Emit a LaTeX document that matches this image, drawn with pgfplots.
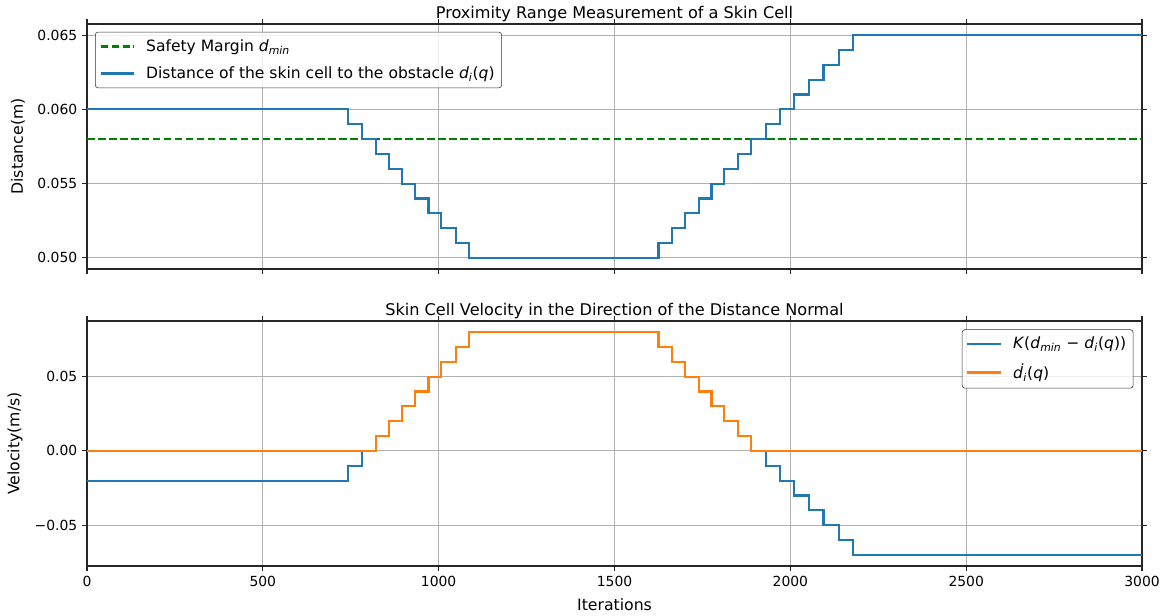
\documentclass[border=0pt]{standalone}
\usepackage{fontspec}
\setmainfont{DejaVu Sans}
\usepackage{pgfplots}
\pgfplotsset{compat=1.18}
\definecolor{tabblue}{HTML}{1F77B4}
\definecolor{taborange}{HTML}{FF7F0E}
\definecolor{mplgreen}{HTML}{008000}
\definecolor{gridgray}{HTML}{B0B0B0}

\pgfplotsset{
 common/.style={
  scale only axis, width=759.6pt, height=176.4pt,
  xmin=0, xmax=3000,
  xtick={0,500,1000,1500,2000,2500,3000},
  scaled ticks=false,
  tick pos=both, tick align=outside,
  major tick length=3.5pt,
  tick style={black!85, line width=0.8pt},
  axis line style={line width=0.9pt, black!85},
  grid=major, major grid style={line width=0.8pt, gridgray},
  xticklabel style={font=\fontsize{10}{12}\selectfont},
  yticklabel style={font=\fontsize{10}{12}\selectfont},
  /pgf/number format/assume math mode=true,
  legend cell align=left,
  legend image code/.code={\draw[#1] (0pt,0pt) -- (24pt,0pt);},
  legend style={font=\fontsize{11.2}{13}\selectfont, draw=black!80, rounded corners=2pt, fill=white, fill opacity=0.8, text opacity=1, row sep=5.5pt, inner xsep=3pt, inner ysep=3.3pt,
    /tikz/every odd column/.append style={column sep=6pt}},
  title style={font=\fontsize{11.6}{14}\selectfont, at={(0.5,1)}, anchor=south, inner sep=0pt, yshift=-4.4pt},
  label style={font=\fontsize{11.3}{13}\selectfont},
  every axis plot/.append style={line width=1.6pt, line join=miter},
 }
}

\begin{document}
\begin{tikzpicture}
\useasboundingbox (-62.64pt,-425.52pt) rectangle (776.88pt,17.28pt);
\begin{axis}[common,
  at={(0pt,0pt)}, anchor=north west,
  ymin=0.04925, ymax=0.06575,
  ytick={0.05,0.055,0.06,0.065},
  yticklabels={0.050,0.055,0.060,0.065},
  xticklabels={},
  title={Proximity Range Measurement of a Skin Cell},
  ylabel={Distance(m)},
  ylabel style={at={(axis description cs:-0.0654,0.5)}, rotate=0, anchor=center},
  legend style={at={(0.0076,0.968)}, anchor=north west},
]
\addplot[mplgreen, dash pattern=on 5.5pt off 2.4pt] coordinates {(0,0.058) (3000,0.058)};
\addlegendentry{Safety Margin \textit{d}\textsubscript{\textit{min}}}
\addplot[tabblue, const plot] coordinates {
(0,0.060) (743,0.059) (783,0.058) (822,0.057) (859,0.056) (895,0.055)
(933,0.054) (971,0.053) (1007,0.052) (1049,0.051) (1086,0.050)
(1625,0.051) (1664,0.052) (1700,0.053) (1740,0.054) (1776,0.055)
(1812,0.056) (1852,0.057) (1888,0.058) (1930,0.059) (1970,0.060)
(2010,0.061) (2053,0.062) (2094,0.063) (2139,0.064) (2179,0.065) (3000,0.065)};
\addlegendentry{Distance of the skin cell to the obstacle \textit{d}\textsubscript{\textit{i}}(\textit{q})}
\end{axis}
\begin{axis}[common,
  at={(0pt,-213.84pt)}, anchor=north west,
  ymin=-0.0775, ymax=0.0875,
  ytick={-0.05,0,0.05},
  yticklabels={−0.05,0.00,0.05},
  xticklabels={0,500,1000,1500,2000,2500,3000},
  title={Skin Cell Velocity in the Direction of the Distance Normal},
  xlabel={Iterations},
  ylabel={Velocity(m/s)},
  ylabel style={at={(axis description cs:-0.0682,0.5)}, rotate=0, anchor=center},
  xlabel style={at={(axis description cs:0.5,-0.159)}, anchor=center},
  legend style={at={(0.9918,0.966)}, anchor=north east},
]
\addplot[tabblue, const plot] coordinates {
(0,-0.02) (743,-0.01) (783,0.00) (822,0.01) (859,0.02) (895,0.03)
(933,0.04) (971,0.05) (1007,0.06) (1049,0.07) (1086,0.08)
(1625,0.07) (1664,0.06) (1700,0.05) (1740,0.04) (1776,0.03)
(1812,0.02) (1852,0.01) (1888,0.00) (1930,-0.01) (1970,-0.02)
(2010,-0.03) (2053,-0.04) (2094,-0.05) (2139,-0.06) (2179,-0.07) (3000,-0.07)};
\addlegendentry{\textit{K}(\textit{d}\textsubscript{\textit{min}} − \textit{d}\textsubscript{\textit{i}}(\textit{q}))}
\addplot[taborange, const plot] coordinates {
(0,0.00) (822,0.01) (859,0.02) (895,0.03)
(933,0.04) (971,0.05) (1007,0.06) (1049,0.07) (1086,0.08)
(1625,0.07) (1664,0.06) (1700,0.05) (1740,0.04) (1776,0.03)
(1812,0.02) (1852,0.01) (1888,0.00) (3000,0.00)};
\addlegendentry{\textit{ḋ}\textsubscript{\textit{i}}(\textit{q})}
\end{axis}
\end{tikzpicture}
\end{document}
